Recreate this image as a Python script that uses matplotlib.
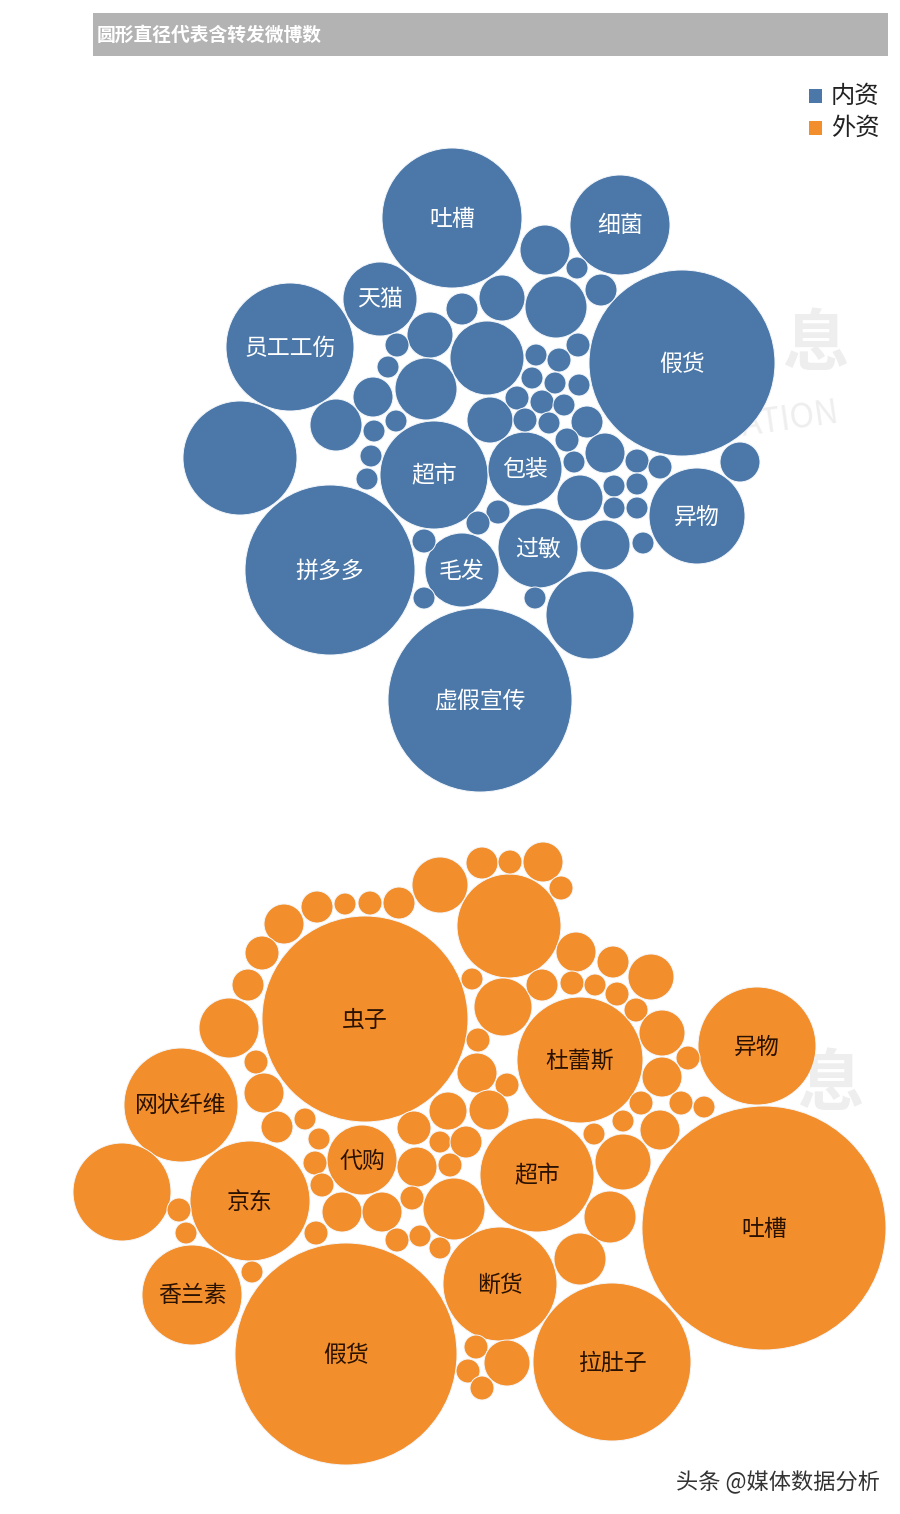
import matplotlib.pyplot as plt
from matplotlib.patches import Circle, Rectangle

plt.rcParams['font.family'] = ['Noto Sans CJK SC', 'DejaVu Sans']

title = '圆形直径代表含转发微博数'
series_names = ['内资', '外资']
blue = '#4b78a8'
orange = '#f28e2b'

# 内资 bubbles: label, centre x, centre y, diameter (layout units = px of the 900x1514 canvas)
dom_labels = ['吐槽', '细菌', '假货', '天猫', '员工工伤', '', '拼多多', '虚假宣传',
              '超市', '包装', '毛发', '过敏', '异物', ''] + [''] * 48
dom_x = [452, 620, 682, 380, 290, 240, 330, 480, 434, 525, 462, 538, 697, 590,
         545, 577, 601, 462, 502, 556, 430, 397, 487, 578, 536, 559, 388, 426,
         373, 532, 555, 579, 336, 396, 374, 490, 517, 542, 564, 525, 549, 587,
         567, 371, 367, 574, 605, 637, 660, 580, 614, 637, 614, 637, 498, 478,
         424, 605, 643, 740, 424, 535]
dom_y = [218, 225, 363, 299, 347, 458, 570, 700, 475, 469, 570, 548, 516, 615,
         250, 268, 290, 309, 298, 307, 335, 345, 358, 345, 355, 360, 367, 389,
         397, 378, 383, 385, 425, 421, 431, 420, 398, 402, 405, 420, 423, 422,
         440, 456, 479, 462, 453, 461, 467, 498, 486, 484, 508, 508, 512, 523,
         541, 545, 543, 462, 598, 598]
dom_d = [140, 100, 186, 74, 128, 114, 170, 184, 108, 74, 74, 80, 96, 88,
         50, 22, 32, 32, 46, 62, 46, 24, 74, 24, 22, 24, 22, 62,
         40, 22, 22, 22, 52, 22, 22, 46, 24, 24, 22, 24, 22, 32,
         24, 22, 22, 22, 40, 24, 24, 46, 22, 22, 22, 22, 24, 24,
         24, 50, 22, 40, 22, 22]

# 外资 bubbles
for_labels = ['虫子', '吐槽', '假货', '拉肚子', '断货', '超市', '杜蕾斯', '异物',
              '网状纤维', '', '京东', '香兰素', '代购', ''] + [''] * 67
for_x = [365, 764, 346, 612, 500, 537, 580, 757, 181, 122, 250, 192, 362, 509,
         440, 482, 510, 543, 561, 399, 370, 345, 317, 284, 262, 248, 229, 256,
         264, 277, 305, 472, 503, 478, 477, 507, 489, 448, 414, 576, 613, 651,
         542, 572, 595, 617, 636, 662, 688, 662, 641, 681, 704, 623, 660, 594,
         623, 610, 580, 319, 315, 322, 342, 382, 316, 252, 440, 466, 417, 450,
         412, 454, 397, 420, 440, 476, 507, 468, 482, 179, 186]
for_y = [1019, 1228, 1354, 1362, 1284, 1175, 1060, 1046, 1105, 1192, 1201, 1295, 1160, 926,
         885, 863, 862, 862, 888, 903, 903, 904, 907, 924, 953, 985, 1028, 1062,
         1093, 1127, 1119, 979, 1007, 1040, 1073, 1085, 1110, 1111, 1128, 952, 962, 977,
         985, 983, 985, 994, 1010, 1033, 1058, 1077, 1103, 1103, 1107, 1121, 1130, 1134,
         1162, 1217, 1259, 1139, 1163, 1185, 1212, 1212, 1233, 1272, 1142, 1142, 1167, 1165,
         1198, 1209, 1240, 1236, 1248, 1347, 1363, 1371, 1388, 1210, 1233]
for_d = [206, 244, 222, 158, 114, 114, 126, 118, 114, 98, 120, 100, 70, 104,
         56, 32, 24, 40, 24, 32, 24, 22, 32, 40, 34, 32, 60, 24,
         40, 32, 22, 22, 58, 24, 40, 24, 40, 38, 34, 40, 32, 46,
         32, 24, 22, 24, 24, 46, 24, 40, 24, 24, 22, 22, 40, 22,
         56, 52, 52, 22, 24, 24, 40, 40, 24, 22, 22, 32, 40, 24,
         24, 62, 24, 22, 22, 24, 46, 24, 24, 24, 22]

fig = plt.figure(figsize=(9, 15.14), dpi=100)
ax = fig.add_axes([0, 0, 1, 1])
ax.set_xlim(0, 900)
ax.set_ylim(1514, 0)
ax.set_aspect('equal')
ax.axis('off')

# faint watermark behind the bubbles
ax.text(815, 345, '息', fontsize=48, color='#eeeeee', ha='center', va='center',
        fontweight='bold', zorder=0)
ax.text(790, 420, 'ATION', fontsize=24, color='#eeeeee', ha='center',
        va='center', rotation=8, zorder=0)
ax.text(830, 1085, '息', fontsize=48, color='#eeeeee', ha='center', va='center',
        fontweight='bold', zorder=0)

# title bar
ax.add_patch(Rectangle((93, 13), 795, 43, facecolor='#b3b3b3', edgecolor='none'))
ax.text(97, 35.5, title, fontsize=13.5, color='white', fontweight='bold', va='center', ha='left')

# legend
for i, (name, c) in enumerate(zip(series_names, [blue, orange])):
    yy = 96 + i * 32
    ax.add_patch(Rectangle((809, yy - 7), 13, 14, facecolor=c, edgecolor='none'))
    ax.text(831, yy, name, fontsize=17.5, color='#222222', va='center', ha='left')


def draw_bubbles(labels, xs, ys, ds, color, txt_color):
    for lab, x, y, d in zip(labels, xs, ys, ds):
        ax.add_patch(Circle((x, y), d / 2, facecolor=color, edgecolor='#f4f7fb',
                            linewidth=0.7, zorder=2))
        if lab:
            ax.text(x, y + 1, lab, fontsize=16.5, color=txt_color, ha='center', va='center', zorder=3)


draw_bubbles(dom_labels, dom_x, dom_y, dom_d, blue, 'white')
draw_bubbles(for_labels, for_x, for_y, for_d, orange, '#2b1100')

ax.text(880, 1482, '头条 @媒体数据分析', fontsize=16, color='#333333', ha='right', va='center')

fig.savefig('out.png', dpi=100)
